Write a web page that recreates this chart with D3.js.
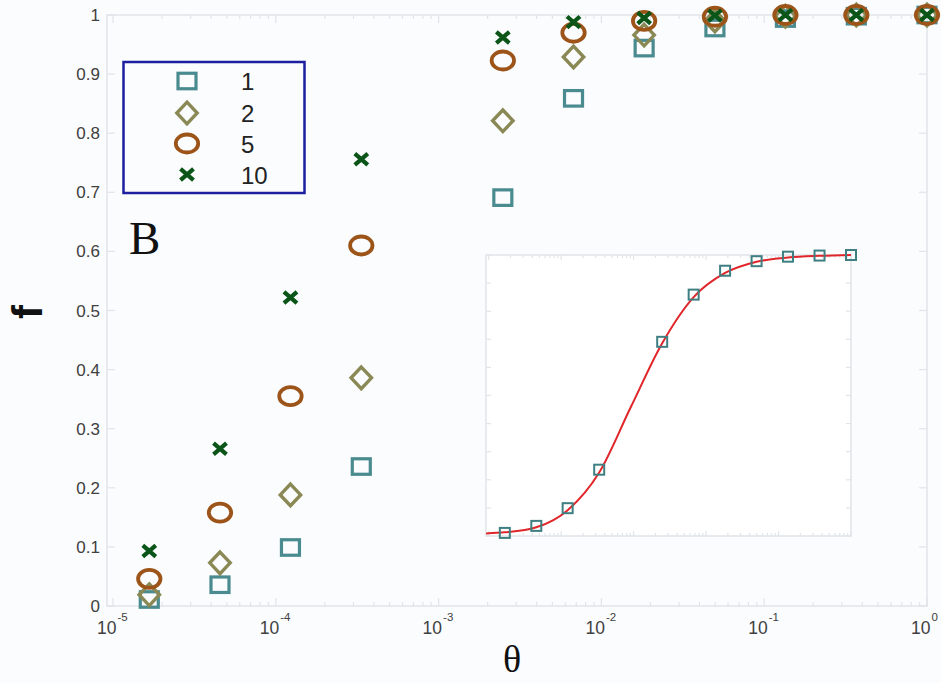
<!DOCTYPE html>
<html>
<head>
<meta charset="utf-8">
<script src="https://cdn.jsdelivr.net/npm/d3@7/dist/d3.min.js"></script>
<style>
  html, body { margin: 0; padding: 0; background: #fafcfe; }
  svg { display: block; }
</style>
</head>
<body>
<svg id="chart" width="941" height="683"></svg>
<script>
// Sampled θ values (θ = e^-k for k = 11..8, 6..0)
const theta = [1.67e-5, 4.54e-5, 1.23e-4, 3.35e-4, 2.48e-3, 6.74e-3, 1.83e-2, 4.98e-2, 0.135, 0.368, 1.0];

// Series f(θ) for each parameter value
const seriesNames = ["1", "2", "5", "10"];
const values1  = [0.011, 0.036, 0.099, 0.236, 0.691, 0.859, 0.944, 0.978, 0.994, 0.998, 1.0];
const values2  = [0.019, 0.073, 0.188, 0.386, 0.821, 0.929, 0.966, 0.990, 0.998, 1.0, 1.0];
const values5  = [0.046, 0.158, 0.355, 0.610, 0.923, 0.970, 0.990, 0.997, 1.0, 1.0, 1.0];
const values10 = [0.093, 0.266, 0.522, 0.756, 0.962, 0.988, 0.995, 0.999, 1.0, 1.0, 1.0];

// Fitted curve shown in the inset (for series "1")
const fitTheta = [9.2e-6, 1.67e-5, 4.54e-5, 1.23e-4, 3.35e-4, 9.12e-4, 2.48e-3, 6.74e-3, 1.83e-2, 4.98e-2, 0.135, 0.368, 1.0];
const fitValue = [0.009, 0.013, 0.031, 0.092, 0.226, 0.458, 0.686, 0.850, 0.936, 0.976, 0.991, 0.997, 1.0];

// Axis ticks
const xMajorTicks = [1e-5, 1e-4, 1e-3, 1e-2, 1e-1, 1];
const xTickExponents = ["-5", "-4", "-3", "-2", "-1", "0"];
const yTicks = [0, 0.1, 0.2, 0.3, 0.4, 0.5, 0.6, 0.7, 0.8, 0.9, 1];
const yTickLabels = ["0", "0.1", "0.2", "0.3", "0.4", "0.5", "0.6", "0.7", "0.8", "0.9", "1"];

const colors = { sq: "#4a8b8f", dia: "#8a8955", circ: "#9c5419", cross: "#0b5518" };
const frameColor = "#e1e5e9";

const svg = d3.select("#chart");

// Main plot scales
const xMin = Math.pow(10, -5.037);
const x = d3.scaleLog().domain([xMin, 1]).range([107, 927]);
const y = d3.scaleLinear().domain([0, 1]).range([606, 15]);

// Minor log ticks 2..9 × 10^n
const minorTicks = [];
for (let e = -5; e < 0; e++) for (let m = 2; m <= 9; m++) minorTicks.push(m * Math.pow(10, e));

function drawFrame(g, xs, ys, majorLen, minorLen, withYTicks) {
  const [x0, x1] = xs.range();
  const [y0, y1] = ys.range();
  g.append("rect")
    .attr("x", x0).attr("y", y1).attr("width", x1 - x0).attr("height", y0 - y1)
    .attr("fill", "none").attr("stroke", frameColor).attr("stroke-width", 1.5);
  const tg = g.append("g").attr("stroke", frameColor).attr("stroke-width", 1.2);
  xMajorTicks.forEach(t => {
    tg.append("line").attr("x1", xs(t)).attr("x2", xs(t)).attr("y1", y0).attr("y2", y0 - majorLen);
    tg.append("line").attr("x1", xs(t)).attr("x2", xs(t)).attr("y1", y1).attr("y2", y1 + majorLen);
  });
  minorTicks.forEach(t => {
    tg.append("line").attr("x1", xs(t)).attr("x2", xs(t)).attr("y1", y0).attr("y2", y0 - minorLen);
    tg.append("line").attr("x1", xs(t)).attr("x2", xs(t)).attr("y1", y1).attr("y2", y1 + minorLen);
  });
  if (withYTicks) {
    yTicks.forEach(t => {
      tg.append("line").attr("x1", x0).attr("x2", x0 + majorLen).attr("y1", ys(t)).attr("y2", ys(t));
      tg.append("line").attr("x1", x1).attr("x2", x1 - majorLen).attr("y1", ys(t)).attr("y2", ys(t));
    });
  }
}

// Main frame and ticks
const main = svg.append("g");
drawFrame(main, x, y, 8, 4, true);

// Y tick labels
main.append("g").selectAll("text").data(yTicks).join("text")
  .attr("x", 100).attr("y", d => y(d) + 6)
  .attr("text-anchor", "end")
  .attr("font-family", "Liberation Sans, Arial, sans-serif")
  .attr("font-size", 17).attr("fill", "#404040")
  .text((d, i) => yTickLabels[i]);

// X tick labels: 10 with a superscript exponent
const xl = main.append("g").attr("font-family", "Liberation Sans, Arial, sans-serif").attr("fill", "#404040");
xMajorTicks.forEach((t, i) => {
  const cx = x(t);
  const lbl = xl.append("text").attr("x", cx - 16).attr("y", 634).attr("font-size", 17.5);
  lbl.append("tspan").text("10");
  lbl.append("tspan").attr("dy", -13).attr("dx", 1).attr("font-size", 11.5).text(xTickExponents[i]);
});

// Axis titles
svg.append("text").attr("x", 512).attr("y", 672).attr("text-anchor", "middle")
  .attr("font-family", "Liberation Serif, Times New Roman, serif").attr("font-size", 38).attr("fill", "#111")
  .text("θ");
svg.append("text").attr("transform", "translate(42,312) rotate(-90)").attr("text-anchor", "middle")
  .attr("font-family", "Liberation Sans, Arial, sans-serif").attr("font-weight", "bold")
  .attr("font-size", 42).attr("fill", "#111")
  .text("f");
svg.append("text").attr("x", 129).attr("y", 254)
  .attr("font-family", "Liberation Serif, Times New Roman, serif").attr("font-size", 47).attr("fill", "#111")
  .text("B");

// Marker drawing helpers
function square(g, cx, cy, w, h, color, sw) {
  g.append("rect").attr("x", cx - w / 2).attr("y", cy - h / 2).attr("width", w).attr("height", h)
    .attr("fill", "none").attr("stroke", color).attr("stroke-width", sw);
}
function diamond(g, cx, cy, hw, hh, color, sw) {
  g.append("path").attr("d", `M${cx},${cy - hh}L${cx + hw},${cy}L${cx},${cy + hh}L${cx - hw},${cy}Z`)
    .attr("fill", "none").attr("stroke", color).attr("stroke-width", sw).attr("stroke-linejoin", "miter");
}
function ellipse(g, cx, cy, rx, ry, color, sw) {
  g.append("ellipse").attr("cx", cx).attr("cy", cy).attr("rx", rx).attr("ry", ry)
    .attr("fill", "none").attr("stroke", color).attr("stroke-width", sw);
}
function cross(g, cx, cy, hw, hh, color, sw) {
  g.append("path").attr("d", `M${cx - hw},${cy - hh}L${cx + hw},${cy + hh}M${cx - hw},${cy + hh}L${cx + hw},${cy - hh}`)
    .attr("fill", "none").attr("stroke", color).attr("stroke-width", sw);
}

const markerFns = [
  (g, cx, cy) => square(g, cx, cy, 18, 15.5, colors.sq, 3.2),
  (g, cx, cy) => diamond(g, cx, cy, 10.2, 10.8, colors.dia, 3.4),
  (g, cx, cy) => ellipse(g, cx, cy, 11.2, 9, colors.circ, 3.8),
  (g, cx, cy) => cross(g, cx, cy, 6.5, 5.6, colors.cross, 4.2)
];
const allSeries = [values1, values2, values5, values10];

// Inset panel (series "1" with fitted curve)
const ix = d3.scaleLog().domain([xMin, 1]).range([486, 851]);
const iy = d3.scaleLinear().domain([0, 1]).range([536, 255]);
const inset = svg.append("g");
inset.append("rect").attr("x", 486).attr("y", 255).attr("width", 365).attr("height", 281).attr("fill", "#ffffff");
drawFrame(inset, ix, iy, 5, 3, true);
inset.append("path")
  .datum(fitTheta.map((t, i) => [t, fitValue[i]]))
  .attr("d", d3.line().x(d => ix(d[0])).y(d => iy(d[1])).curve(d3.curveMonotoneX))
  .attr("fill", "none").attr("stroke", "#e0262a").attr("stroke-width", 2);
theta.forEach((t, i) => square(inset, ix(t), iy(values1[i]), 10, 10, "#3f7f82", 2));

// Main scatter series
allSeries.forEach((vals, s) => {
  const g = svg.append("g");
  theta.forEach((t, i) => markerFns[s](g, x(t), y(vals[i])));
});

// Legend
const lg = svg.append("g");
lg.append("rect").attr("x", 123.5).attr("y", 62).attr("width", 181).attr("height", 131)
  .attr("fill", "none").attr("stroke", "#1c1f9f").attr("stroke-width", 2.5);
const legendRows = [81, 113, 143.5, 174.5];
seriesNames.forEach((name, s) => {
  markerFns[s](lg, 187, legendRows[s]);
  lg.append("text").attr("x", 241).attr("y", legendRows[s] + 9)
    .attr("font-family", "Liberation Sans, Arial, sans-serif").attr("font-size", 24).attr("fill", "#222")
    .text(name);
});
</script>
</body>
</html>
